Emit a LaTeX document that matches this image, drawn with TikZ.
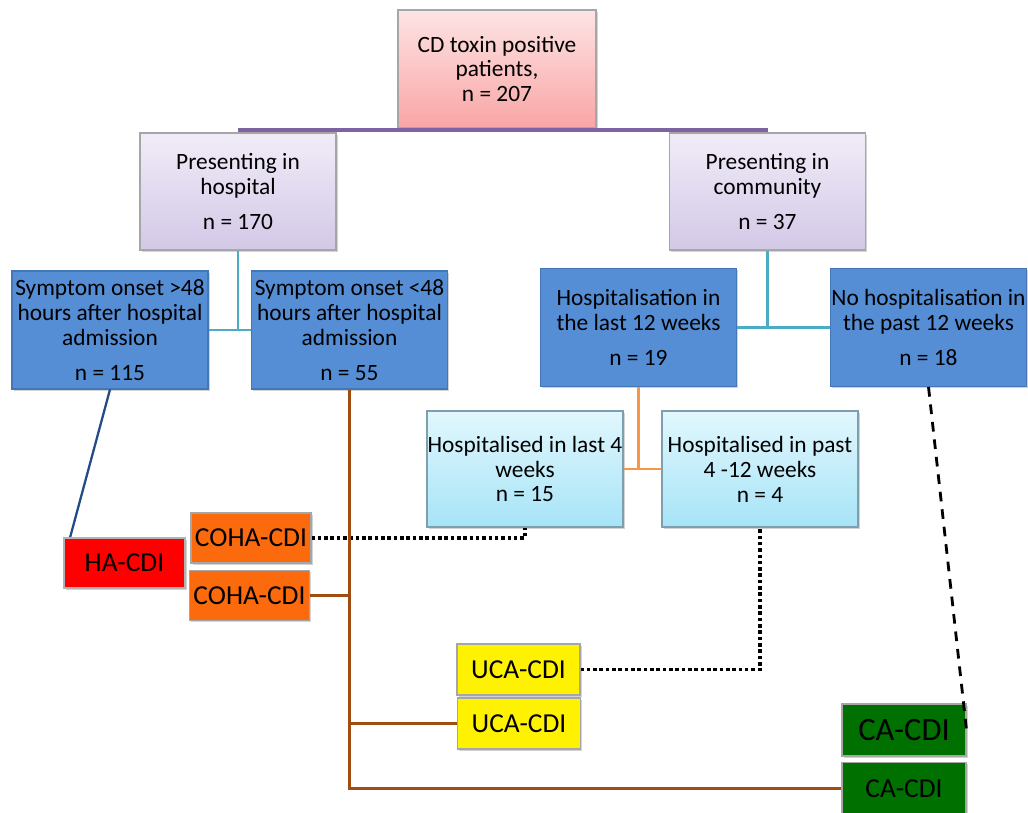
\documentclass[tikz,border=0pt]{standalone}
\usepackage{fontspec}
\setmainfont{Carlito}
\usetikzlibrary{shadows}
\definecolor{pinktop}{HTML}{FDE4E4}
\definecolor{pinkbot}{HTML}{F9A5A5}
\definecolor{liltop}{HTML}{F1ECF8}
\definecolor{lilbot}{HTML}{D3C8E7}
\definecolor{blufill}{HTML}{558ED5}
\definecolor{bluedge}{HTML}{4576B5}
\definecolor{cyntop}{HTML}{E2F7FD}
\definecolor{cynbot}{HTML}{A6E4F7}
\definecolor{purpline}{HTML}{7E63A3}
\definecolor{tealline}{HTML}{4BACC6}
\definecolor{orgline}{HTML}{F79646}
\definecolor{brnline}{HTML}{A04D14}
\definecolor{navyline}{HTML}{234B85}
\definecolor{cohafill}{HTML}{FB6A0C}
\definecolor{cafill}{HTML}{007000}
\tikzset{
  box/.style={draw=gray!70, line width=0.6pt, align=center, inner sep=0pt,
    font=\fontsize{13.3}{14.2}\selectfont,
    drop shadow={shadow xshift=1pt, shadow yshift=-1pt, opacity=0.35}},
  pinkbox/.style={box, top color=pinktop, bottom color=pinkbot,
    minimum width=3.96cm, minimum height=2.36cm},
  lilacbox/.style={box, top color=liltop, bottom color=lilbot,
    minimum width=3.92cm, minimum height=2.34cm},
  bluebox/.style={box, draw=bluedge, fill=blufill,
    minimum width=3.92cm, minimum height=2.36cm},
  cyanbox/.style={box, draw=cyan!30!gray, top color=cyntop, bottom color=cynbot,
    minimum width=3.92cm, minimum height=2.32cm},
  cdibox/.style={box, font=\fontsize{15.6}{17}\selectfont,
    minimum width=2.42cm, minimum height=1cm},
  link/.style={line width=1.3pt},
  dotlink/.style={line width=2pt, dash pattern=on 2pt off 1.6pt},
}
\begin{document}
\begin{tikzpicture}[x=0.02cm, y=-0.02cm]
\useasboundingbox (0,0) rectangle (1028,813);

\node[pinkbox] (top) at (497,69) {CD toxin positive\\patients,\\n = 207};
\node[lilacbox] (pih) at (238,191.5) {Presenting in\\hospital\\[6pt]n = 170};
\node[lilacbox] (pic) at (767.5,191.5) {Presenting in\\community\\[6pt]n = 37};

\node[bluebox] (sgt) at (110,330) {Symptom onset >48\\hours after hospital\\admission\\[6pt]n = 115};
\node[bluebox] (slt) at (349.5,330) {Symptom onset <48\\hours after hospital\\admission\\[6pt]n = 55};
\node[bluebox] (h12) at (638.5,327.5) {Hospitalisation in\\the last 12 weeks\\[6pt]n = 19};
\node[bluebox] (nh12) at (928.5,327.5) {No hospitalisation in\\the past 12 weeks\\[6pt]n = 18};

\node[cyanbox] (h4) at (525,469) {Hospitalised in last 4\\weeks\\n = 15};
\node[cyanbox] (h412) at (760,469) {Hospitalised in past\\4 -12 weeks\\n = 4};

\draw[link, navyline] (sgt.south) -- (64,560);
\node[cdibox, fill=red, draw=gray!60] (ha) at (124.5,563) {HA-CDI};
\node[cdibox, fill=cohafill, minimum width=2.4cm] (coha1) at (251,538) {COHA-CDI};
\node[cdibox, fill=cohafill, minimum width=2.4cm] (coha2) at (249.5,595.5) {COHA-CDI};
\node[cdibox, fill=yellow, minimum width=2.46cm, minimum height=1.02cm] (uca1) at (518.5,669.5) {UCA-CDI};
\node[cdibox, fill=yellow, minimum width=2.46cm, minimum height=1.02cm] (uca2) at (519,723.5) {UCA-CDI};
\node[cdibox, fill=cafill, font=\fontsize{18.5}{20}\selectfont, minimum width=2.48cm, minimum height=1.04cm] (ca1) at (904,730) {CA-CDI};
\node[cdibox, fill=cafill, minimum width=2.48cm, minimum height=1.04cm] (ca2) at (904,788.5) {CA-CDI};

\coordinate (tb) at (497,130);
\draw[line width=1.8pt, purpline] (top.south) -- (tb);
\draw[line width=1.8pt, purpline] (tb -| pih.north) -- (tb -| pic.north);

\draw[link, tealline] (pih.south) -- (pih.south |- sgt.east);
\draw[link, tealline] (sgt.east) -- (slt.west);
\draw[link, tealline] (pic.south) -- (pic.south |- h12.east);
\draw[link, tealline] (h12.east) -- (nh12.west);

\draw[link, orgline] (h12.south) -- (h12.south |- h4.east);
\draw[link, orgline] (h4.east) -- (h412.west);

\draw[dotlink] (coha1.east) -| (h4.south);
\draw[dotlink] (uca1.east) -| (h412.south);
\draw[line width=1.6pt, dash pattern=on 5.5pt off 4.5pt] (nh12.south) -- (ca1.east);

\draw[link, brnline] (slt.south) -- (slt.south |- ca2.west) -- (ca2.west);
\draw[link, brnline] (coha2.east) -- (coha2.east -| slt.south);
\draw[link, brnline] (uca2.west) -- (uca2.west -| slt.south);
\end{tikzpicture}
\end{document}
